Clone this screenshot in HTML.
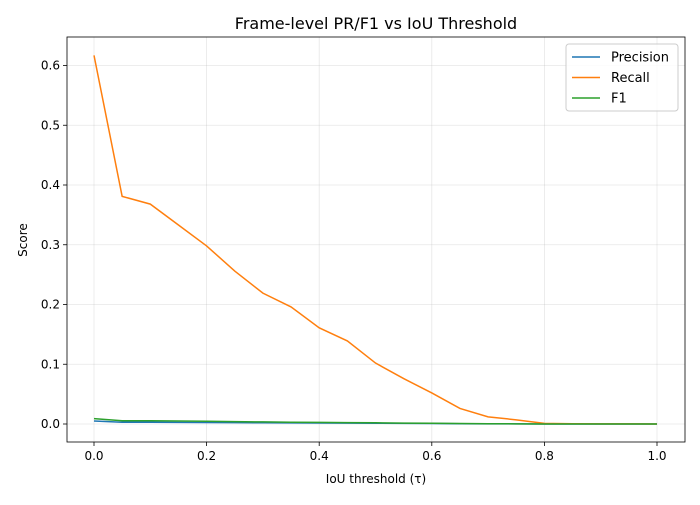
<!DOCTYPE html>
<html><head><meta charset="utf-8"><style>
body{margin:0;background:#fff;font-family:"Liberation Sans","DejaVu Sans",sans-serif;}
svg text{font-family:"DejaVu Sans","Liberation Sans",sans-serif;}
</style></head><body>
<svg id="chart" width="700" height="500"></svg>
<script>
const xValues=[0,0.05,0.1,0.15,0.2,0.25,0.3,0.35,0.4,0.45,0.5,0.55,0.6,0.65,0.7,0.75,0.8,0.85,0.9,0.95,1.0];
const recall=[0.617,0.381,0.368,0.333,0.298,0.256,0.219,0.196,0.161,0.139,0.102,0.076,0.052,0.026,0.012,0.007,0.001,0.0005,0.0003,0.0002,0.0001];
const precision=[0.005,0.003,0.003,0.0028,0.0025,0.0022,0.002,0.0018,0.0016,0.0014,0.0012,0.001,0.0008,0.0005,0.0003,0.0002,0.0001,0.0001,0.0001,0.0001,0.0001];
const f1=[0.009,0.0055,0.0054,0.005,0.0045,0.004,0.0035,0.003,0.0027,0.0024,0.002,0.0015,0.0012,0.0008,0.0005,0.0003,0.0001,0.0001,0.0001,0.0001,0.0001];
const xTicks=[0,0.2,0.4,0.6,0.8,1.0];
const xTickLabels=["0.0","0.2","0.4","0.6","0.8","1.0"];
const yTicks=[0,0.1,0.2,0.3,0.4,0.5,0.6];
const yTickLabels=["0.0","0.1","0.2","0.3","0.4","0.5","0.6"];
const svg=document.getElementById('chart');const NS='http://www.w3.org/2000/svg';
const L=67,R=685,T=37,B=442;
const xs=v=>94+v*563;const ys=v=>424-v*597.5;
function mk(t,a,p){const e=document.createElementNS(NS,t);for(const k in a)e.setAttribute(k,a[k]);(p||svg).appendChild(e);return e;}
xTicks.forEach((v,i)=>{
const g=mk('line',{x1:xs(v),x2:xs(v),y1:T,y2:B,stroke:'#b0b0b0','stroke-width':0.8,'stroke-opacity':0.3});

const tk=mk('line',{x1:xs(v),x2:xs(v),y1:B,y2:B+4,stroke:'#000','stroke-width':0.8});

const t=mk('text',{x:xs(v),y:B+18,'text-anchor':'middle','font-size':12});t.textContent=xTickLabels[i];

});
yTicks.forEach((v,i)=>{
const g=mk('line',{x1:L,x2:R,y1:ys(v),y2:ys(v),stroke:'#b0b0b0','stroke-width':0.8,'stroke-opacity':0.3});

const tk=mk('line',{x1:L-4,x2:L,y1:ys(v),y2:ys(v),stroke:'#000','stroke-width':0.8});

const t=mk('text',{x:L-7,y:ys(v)+4,'text-anchor':'end','font-size':12});t.textContent=yTickLabels[i];

});
function line(arr,color,name){const d=arr.map((v,i)=>(i?'L':'M')+xs(xValues[i])+','+ys(v)).join('');
const p=mk('path',{d:d,fill:'none',stroke:color,'stroke-width':1.5});
}
line(precision,'#1f77b4','precision-line');line(recall,'#ff7f0e','recall-line');line(f1,'#2ca02c','f1-line');
const fr=mk('rect',{x:L,y:T,width:R-L,height:B-T,fill:'none',stroke:'#000','stroke-width':0.8});

const ti=mk('text',{x:376,y:29,'text-anchor':'middle','font-size':16});ti.textContent='Frame-level PR/F1 vs IoU Threshold';

const xl=mk('text',{x:376,y:483,'text-anchor':'middle','font-size':12});xl.textContent='IoU threshold (τ)';

const yl=mk('text',{x:27,y:240,'text-anchor':'middle','font-size':12,transform:'rotate(-90 27 240)'});yl.textContent='Score';

const lg=mk('g',{});
mk('rect',{x:566,y:44,width:112,height:67,rx:3,fill:'#fff','fill-opacity':0.8,stroke:'#ccc'},lg);
[['Precision','#1f77b4'],['Recall','#ff7f0e'],['F1','#2ca02c']].forEach((e,i)=>{
const y=57+i*20.5;
const ln=mk('line',{x1:572,x2:600,y1:y,y2:y,stroke:e[1],'stroke-width':1.5},lg);

const t=mk('text',{x:611,y:y+4.5,'font-size':13},lg);t.textContent=e[0];

});
</script>
</body></html>
